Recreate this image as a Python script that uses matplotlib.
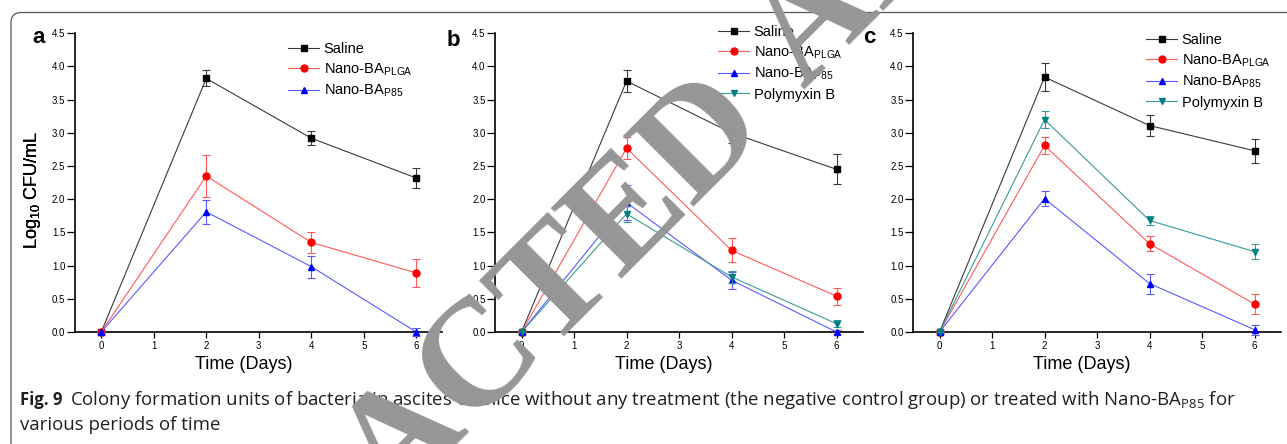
import numpy as np
import matplotlib
matplotlib.use("Agg")
import matplotlib.pyplot as plt
from matplotlib.patches import FancyBboxPatch
from matplotlib.transforms import IdentityTransform

# ---------------- data ----------------
days = [0, 2, 4, 6]
x_ticks = [0, 1, 2, 3, 4, 5, 6]
y_ticks = [0.0, 0.5, 1.0, 1.5, 2.0, 2.5, 3.0, 3.5, 4.0, 4.5]
panel_letters = ["a", "b", "c"]

series_labels = ["Saline", r"Nano-BA$_{\mathregular{PLGA}}$",
                 r"Nano-BA$_{\mathregular{P85}}$", "Polymyxin B"]

a_saline = [0.0, 3.82, 2.92, 2.32]
a_saline_err = [0.0, 0.12, 0.11, 0.155]
a_plga = [0.0, 2.35, 1.35, 0.89]
a_plga_err = [0.0, 0.31, 0.155, 0.21]
a_p85 = [0.0, 1.81, 0.985, 0.0]
a_p85_err = [0.0, 0.18, 0.165, 0.06]

b_saline = [0.0, 3.78, 3.0, 2.45]
b_saline_err = [0.0, 0.16, 0.15, 0.225]
b_plga = [0.0, 2.77, 1.23, 0.54]
b_plga_err = [0.0, 0.165, 0.18, 0.13]
b_p85 = [0.0, 1.95, 0.78, 0.0]
b_p85_err = [0.0, 0.26, 0.13, 0.03]
b_poly = [0.0, 1.78, 0.83, 0.125]
b_poly_err = [0.0, 0.12, 0.09, 0.05]

c_saline = [0.0, 3.84, 3.11, 2.73]
c_saline_err = [0.0, 0.21, 0.16, 0.18]
c_plga = [0.0, 2.81, 1.33, 0.42]
c_plga_err = [0.0, 0.135, 0.11, 0.15]
c_p85 = [0.0, 2.01, 0.73, 0.035]
c_p85_err = [0.0, 0.11, 0.15, 0.075]
c_poly = [0.0, 3.2, 1.68, 1.21]
c_poly_err = [0.0, 0.13, 0.075, 0.11]

caption_bold = "Fig. 9"
caption_line1 = ("Colony formation units of bacteria in ascites of mice without any treatment "
                 "(the negative control group) or treated with Nano-BA$_{\\mathregular{P85}}$ for")
caption_line2 = "various periods of time"
watermark_words = ["RETRACTED", "ARTICLE"]

# ---------------- style ----------------
W, H = 1287, 444
SANS = ["Liberation Sans", "DejaVu Sans"]
plt.rcParams["font.family"] = SANS
plt.rcParams["mathtext.default"] = "regular"

styles = [  # line colour, marker colour, marker, size
    ("#3a3a3a", "#000000", "s", 4.2),
    ("#ff5a5a", "#ff0000", "o", 5.0),
    ("#5a5aff", "#0000ff", "^", 5.0),
    ("#3a9a9a", "#008080", "v", 5.0),
]

panels = [
    ([a_saline, a_plga, a_p85], [a_saline_err, a_plga_err, a_p85_err]),
    ([b_saline, b_plga, b_p85, b_poly], [b_saline_err, b_plga_err, b_p85_err, b_poly_err]),
    ([c_saline, c_plga, c_p85, c_poly], [c_saline_err, c_plga_err, c_p85_err, c_poly_err]),
]

fig = plt.figure(figsize=(W / 100, H / 100), dpi=100)
renderer = fig.canvas.get_renderer()

# frame around the figure
frame = FancyBboxPatch((11, -20), 1400, 444 - 12.5 + 20,
                       boxstyle="round,pad=0,rounding_size=10",
                       transform=IdentityTransform(), fill=False,
                       edgecolor="#555555", linewidth=0.9, zorder=0)
fig.patches.append(frame)

ax_left_px = [75, 495.3, 913.3]
ax_w_px = 367.5
ax_top_px, ax_bot_px = 33.3, 332.0
legend_x_px = [288, 718, 1146]
legend_top_px = [42, 25, 33]
letter_pos = [(32, 43), (447, 46), (863, 43)]

for i, (vals, errs) in enumerate(panels):
    ax = fig.add_axes([ax_left_px[i] / W, (H - ax_bot_px) / H,
                       ax_w_px / W, (ax_bot_px - ax_top_px) / H])
    handles = []
    for j, (v, e) in enumerate(zip(vals, errs)):
        lc, mc, mk, ms = styles[j]
        cont = ax.errorbar(days, v, yerr=e, color=lc, lw=0.8, ecolor=lc, elinewidth=0.8,
                           capsize=2.6, capthick=0.8, marker=mk, markersize=ms,
                           markerfacecolor=mc, markeredgecolor=mc,
                           clip_on=False, zorder=3 + j)
        cont[0].set_label(series_labels[j])
        handles.append(cont[0])
    ax.set_xlim(-0.5, 6.5)
    ax.set_ylim(0, 4.5)
    ax.set_xticks(x_ticks)
    ax.set_yticks(y_ticks)
    ax.set_yticklabels([f"{t:.1f}" for t in y_ticks])
    for s in ["top", "right"]:
        ax.spines[s].set_visible(False)
    for s in ["left", "bottom"]:
        ax.spines[s].set_linewidth(1.2)
    ax.tick_params(axis="y", direction="out", length=5.5, width=0.9, labelsize=7, pad=1.5)
    ax.tick_params(axis="x", direction="out", length=4, width=0.9, labelsize=7, pad=2.5)
    ax.set_xlabel("Time (Days)", fontsize=13)
    ax.xaxis.set_label_coords(0.459, -(356 - ax_bot_px) / (ax_bot_px - ax_top_px))
    ax.set_ylabel(r"Log$_{10}$ CFU/mL", fontsize=13)
    ax.yaxis.set_label_coords(-(ax_left_px[i] - 43) / ax_w_px, 0.475)
    lx = (legend_x_px[i] - ax_left_px[i]) / ax_w_px
    ly = (ax_bot_px - legend_top_px[i]) / (ax_bot_px - ax_top_px)
    ax.legend(handles=handles, loc="upper left", bbox_to_anchor=(lx, ly), frameon=False,
              fontsize=10.5, handlelength=2.15, handletextpad=0.3,
              labelspacing=0.36, borderpad=0, borderaxespad=0, numpoints=1)
    px, py = letter_pos[i]
    fig.text(px / W, 1 - py / H, panel_letters[i], fontsize=16, fontweight="bold",
             ha="left", va="baseline")

# caption
cap_color = "#231f20"
cap_font = ["Open Sans", "DejaVu Sans"]
cap_size = 12.0
t_bold = fig.text(20 / W, 1 - 405 / H, caption_bold, fontsize=cap_size, fontweight="bold",
                  family=cap_font, color=cap_color, ha="left", va="baseline")
bold_end = 20 + t_bold.get_window_extent(renderer).width + 7
t1 = fig.text(bold_end / W, 1 - 405 / H, caption_line1, fontsize=cap_size, family=cap_font,
              color=cap_color, ha="left", va="baseline")
w1 = t1.get_window_extent(renderer).width
t1.set_fontsize(cap_size * (1232 - bold_end) / w1)
fig.text(20 / W, 1 - 430 / H, caption_line2, fontsize=t1.get_fontsize(), family=cap_font,
         color=cap_color, ha="left", va="baseline")

# watermark: words laid along a 45 degree baseline
wm_font = ["Liberation Serif", "DejaVu Serif"]
wm_size = 110
u = np.array([1.0, -1.0]) / np.sqrt(2)          # baseline direction (image px, y down)
probe = fig.text(0, 0, "RETRAC", fontsize=wm_size, family=wm_font, fontweight="bold")
w_retrac = probe.get_window_extent(renderer).width
probe.remove()
p_T = np.array([548.0, 350.0])                  # start of the 2nd "T" on the baseline
p_R = p_T - w_retrac * u
p_A = np.array([803.0, 89.0])                   # start of "ARTICLE" on the baseline
for word, p in zip(watermark_words, [p_R, p_A]):
    fig.text(p[0] / W, 1 - p[1] / H, word, fontsize=wm_size, family=wm_font,
             fontweight="bold", color="#969696", rotation=45, rotation_mode="anchor",
             ha="left", va="baseline", zorder=50)

fig.savefig("out.png", dpi=100)
